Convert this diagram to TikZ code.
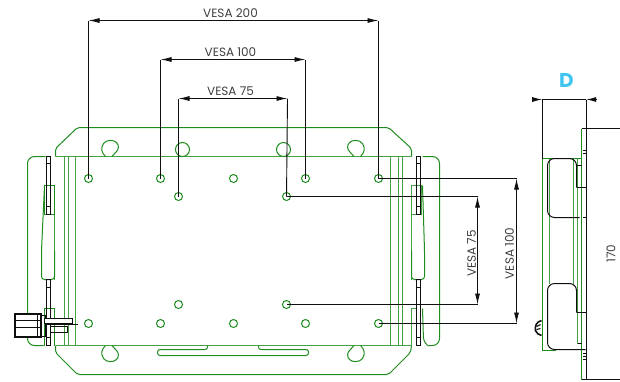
\documentclass[tikz,border=0pt]{standalone}
\usepackage{fontspec}
\setmainfont{Poppins}
\usetikzlibrary{arrows.meta}
\definecolor{gr}{RGB}{30,140,30}
\definecolor{grl}{RGB}{70,160,70}
\definecolor{dk}{RGB}{15,15,15}
\definecolor{dcyan}{RGB}{64,196,240}
\tikzset{
  plate/.style={draw=gr,line width=1pt},
  platel/.style={draw=grl,line width=1pt},
  blk/.style={draw=dk,line width=1pt},
  dimline/.style={draw=dk,line width=.9pt},
  dimarrow/.style={dimline,{Latex[length=11pt,width=5pt]}-{Latex[length=11pt,width=5pt]}},
  hole/.style={circle,draw=gr,line width=1pt,minimum size=8pt,inner sep=0pt},
  bighole/.style={circle,draw=gr,line width=1pt,minimum size=14pt,inner sep=0pt},
  lab/.style={font=\fontsize{12}{14}\selectfont,text=dk!80!white,inner sep=0pt},
}
\begin{document}
\begin{tikzpicture}[x=1pt,y=-1pt]
\useasboundingbox (0,0) rectangle (620,381);
\begin{scope}[shift={(0.5,0.5)}]
% plates
\draw[plate,rounded corners=2pt] (55,156) -- (55,148) -- (77,127) -- (388,127) -- (411,148) -- (411,156);
\draw[plate,rounded corners=2pt] (55,345) -- (55,352) -- (77,374) -- (388,374) -- (410,352) -- (411,345);
\draw[plate,rounded corners=7pt] (45,156) -- (27,156) -- (27,345) -- (43,345);
\draw[plate,rounded corners=7pt] (422,156) -- (439,156) -- (439,345) -- (427,345);
\draw[platel] (55,156) -- (411,156);
\draw[platel] (55,345) -- (411,345);
% vertical rails
\foreach \x in {64,68,75,390,398,402} \draw[platel] (\x,156) -- (\x,345);
\draw[platel] (54,214) -- (54,279);
\draw[platel] (411,214) -- (411,279);
% lozenges
\draw[plate,rounded corners=3pt] (44,185) -- (41,250) -- (41,279) -- (54,279) -- (54,250);
\draw[plate,rounded corners=3pt] (422,185) -- (424,250) -- (424,279) -- (411,279) -- (411,250);
% side brackets
\draw[plate] (44,214) -- (44,185) -- (54,185) -- (54,214) -- cycle;
\draw[platel] (411,214) -- (411,185) -- (421,185) -- (421,214) -- cycle;
\draw[plate] (44,345) -- (44,308) -- (54,308) -- (54,345);
\draw[platel] (411,345) -- (411,308) -- (416,308);
\draw[plate,rounded corners=3pt] (422,308) -- (423,340) -- (427,345);
% black rails
\foreach \x in {46,416} {
  \draw[blk] (\x,156) rectangle (\x+4,214);
  \draw[blk] (\x,279) rectangle (\x+4,345);
  \foreach \y in {163,206,287,337} \draw[blk] (\x,\y) -- (\x+4,\y);
}
% slots
\foreach \sx/\sc in {0/1,465/-1} {
  \begin{scope}[shift={(\sx,0)},xscale=\sc]
    \draw[plate] (105,156) .. controls (101,152) and (100,148) .. (103,143) .. controls (106,139) and (113,139) .. (116,142) .. controls (119,145) and (118,149) .. (116,151) -- (111.5,156);
    \draw[plate] (105,345) .. controls (101,349) and (100,353) .. (103,358) .. controls (106,362) and (113,362) .. (116,359) .. controls (119,356) and (118,352) .. (116,350) -- (111.5,345);
  \end{scope}
}
% long bottom slot
\draw[plate,rounded corners=2.5pt] (207,345) -- (207,349) -- (157,349) -- (157,355) -- (308,355) -- (308,349) -- (258,349) -- (258,345);
% holes
\node[bighole] (b1) at (182,149) {};
\node[bighole] (b2) at (283,149) {};
\node[hole] (h1) at (88,178) {};
\node[hole] (h2) at (160,178) {};
\node[hole] (h3) at (233,178) {};
\node[hole] (h4) at (305,178) {};
\node[hole] (h5) at (378,178) {};
\node[hole] (m1) at (178,196) {};
\node[hole] (m2) at (286,196) {};
\node[hole] (m3) at (178,304) {};
\node[hole] (m4) at (286,304) {};
\node[hole] (l1) at (88,323) {};
\node[hole] (l2) at (160,323) {};
\node[hole] (l3) at (233,323) {};
\node[hole] (l4) at (305,323) {};
\node[hole] (l5) at (378,323) {};
% dimension: VESA 200
\coordinate (a1) at (88,20); \coordinate (a2) at (378,20);
\draw[dimline] (h1.center) -- (a1); \draw[dimline] (h5.center) -- (a2);
\draw[dimarrow] (a1) -- (a2);
\node[lab] (t200) at (230,13) {VESA 200};
% VESA 100
\coordinate (c1) at (160,59); \coordinate (c2) at (305,59);
\draw[dimline] (h2.center) -- (c1); \draw[dimline] (h4.center) -- (c2);
\draw[dimarrow] (c1) -- (c2);
\node[lab] (t100) at (230,52) {VESA 100};
% VESA 75
\coordinate (e1) at (178,98); \coordinate (e2) at (287,98);
\draw[dimline] (m1.center) -- (e1); \draw[dimline] (m2.center) -- (e2);
\draw[dimarrow] (e1) -- (e2);
\node[lab] (t75) at (230,91) {VESA 75};
% right VESA 100
\coordinate (r1) at (516,178); \coordinate (r2) at (516,323);
\draw[dimline] (h5.center) -- (r1); \draw[dimline] (l5.center) -- (r2);
\draw[dimarrow] (r1) -- (r2);
\node[lab,rotate=90] (v100) at (509,253) {VESA 100};
% right VESA 75
\coordinate (s1) at (477,196); \coordinate (s2) at (477,304);
\draw[dimline] (m2.center) -- (s1); \draw[dimline] (m4.center) -- (s2);
\draw[dimarrow] (s1) -- (s2);
\node[lab,rotate=90] (v75) at (471,253) {VESA 75};
% connector block
\draw[draw=dk,line width=2pt,fill=white] (14,313.5) rectangle (40,336.5);
\draw[draw=dk,line width=1.1pt] (14,320) -- (40,320) (14,327) -- (40,327) (37,313) -- (37,337);
\draw[blk] (40,315) rectangle (45,336);
\draw[blk,fill=white] (44,318) rectangle (72,323);
\draw[blk] (72,324) -- (77,324) (44,324) -- (72,324);
\draw[blk] (50,326) rectangle (67,332);
% side view
\draw[plate] (581,128) -- (581,379);
\draw[plate] (541.7,158) -- (541.7,350) -- (555,350);
\draw[plate] (541.7,158) -- (581,158);
\foreach \x in {549,573} \draw[platel] (\x,158) -- (\x,283);
\draw[platel] (577,158) -- (577,343);
\draw[draw=dk,line width=1.3pt] (585.7,128) -- (585.7,379);
% D dimension
\coordinate (d1) at (541.7,99); \coordinate (d2) at (585.7,99);
\coordinate (d3) at (532,99); \coordinate (d4) at (596,99);
\coordinate (d5) at (541.7,158); \coordinate (d6) at (585.7,128);
\draw[dimline] (d1) -- (d5); \draw[dimline] (d2) -- (d6);
\draw[dimline] (d1) -- (d2);
\draw[dimline,{Latex[length=10pt,width=5pt]}-] (d1) -- (d3);
\draw[dimline,{Latex[length=10pt,width=5pt]}-] (d2) -- (d4);
\node[font=\fontsize{20}{22}\selectfont\bfseries,text=dcyan,inner sep=0pt] (dl) at (566,80) {D};
% side pads
\draw[blk,rounded corners=7pt] (576,187) -- (576,158) -- (547,158) -- (547,217) -- (579,217);
\draw[blk] (576,165) -- (581,165);
\draw[blk,rounded corners=7pt] (576,312) -- (576,283) -- (547,283) -- (547,349) -- (585,349);
\draw[blk] (577,343) -- (581,343);
\draw[draw=dk,line width=1.2pt] (581,128) -- (585.7,128) (581,379) -- (585.7,379);
\draw[blk] (582,150) -- (585,150) (582,152.5) -- (585,152.5) (576,187) -- (585,187) (582,217) -- (585,217) (576,312) -- (585,312)
  (582,353) -- (585,353) (582,356) -- (585,356) (582,358.5) -- (585,358.5);
% top right extension + 170
\coordinate (k1) at (620,128); \coordinate (k2) at (620,379);
\draw[dimline] (d6) -- (k1);
\draw[dimline] (585.7,379) -- (k2);
\node[lab,rotate=90] (v170) at (610.5,253) {170};
% hook
\draw[draw=dk,line width=1.6pt] (541,320) .. controls (536,321) and (534,326) .. (535,330) .. controls (536,333) and (538,334) .. (541,335);
\draw[draw=dk,line width=1.1pt] (540,324) -- (536,326) (540,328) -- (536,329);
\end{scope}
\end{tikzpicture}
\end{document}
